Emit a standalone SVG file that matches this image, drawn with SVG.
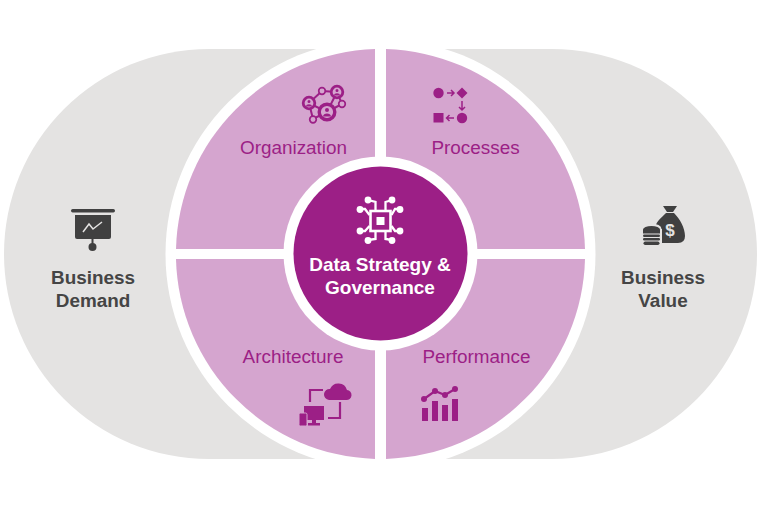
<svg xmlns="http://www.w3.org/2000/svg" width="760" height="505" viewBox="0 0 760 505">
<style>
text{font-family:"Liberation Sans",Arial,sans-serif;text-anchor:middle}
.q{font-size:18.900px;fill:#9c1f86}
.g{font-size:18.900px;font-weight:bold;fill:#454545}
.c{font-size:19px;font-weight:bold;fill:#fff}
.pf{fill:#9c1f86}
.pl{fill:none;stroke:#9c1f86;stroke-width:2.200}
.r{fill:#d5a5cf;stroke:#9c1f86}
.df{fill:#404040}
.w{fill:#fff}
.wl{fill:none;stroke:#fff;stroke-width:2.300}
</style>
<rect width="760" height="505" fill="#fff"/>
<g id="band"><rect x="4" y="49" width="753" height="410" rx="205" ry="205" fill="#e4e3e2"/></g>
<circle cx="380.500" cy="254" r="215" fill="#fff"/>
<g id="organization">
<path d="M375 49.100A205 205 0 0 0 176 249H375Z" fill="#d5a5cf"/>
<path class="pl" style="stroke-width:2" d="M309 103L322 91L337 92L342 104L327 112L309 103L313 119L327 112L337 92"/>
<circle class="r" cx="337" cy="92" r="5.800" stroke-width="2.800"/><circle class="r" cx="309" cy="103" r="5.800" stroke-width="2.800"/><circle class="r" cx="327" cy="112" r="7.800" stroke-width="3.400"/>
<circle class="r" cx="322" cy="91" r="3.300" stroke-width="1.700"/><circle class="r" cx="342" cy="104" r="3.300" stroke-width="1.700"/><circle class="r" cx="313" cy="119.500" r="3.300" stroke-width="1.700"/>
<path class="pf" d="M335.500 90.500a1.500 1.500 0 1 1 3 0a1.500 1.500 0 1 1 -3 0M334 95.500c0-3 6-3 6 0ZM307.500 101.500a1.500 1.500 0 1 1 3 0a1.500 1.500 0 1 1 -3 0M306 106.500c0-3 6-3 6 0ZM325 110a2 2 0 1 1 4 0a2 2 0 1 1 -4 0M323 116.500c0-4 8-4 8 0Z"/>
<text class="q" x="293.500" y="154">Organization</text>
</g>
<g id="processes">
<path d="M386 49.100A205 205 0 0 1 585 249H386Z" fill="#d5a5cf"/>
<circle class="pf" cx="438.500" cy="93" r="5.200"/>
<path class="pf" d="M462 87.500L467.500 93L462 98.500L456.500 93Z"/>
<rect class="pf" x="433.500" y="113" width="10" height="9.500"/>
<circle class="pf" cx="462" cy="118" r="5.200"/>
<path class="pl" style="stroke-width:1.500" d="M447 93H454M451 90L454 93L451 96M462 101V110M459 107L462 110L465 107M454 118H446.500M449.500 115L446.500 118L449.500 121"/>
<text class="q" x="475.500" y="154">Processes</text>
</g>
<g id="architecture">
<path d="M176 259A205 205 0 0 0 375 458.900V259Z" fill="#d5a5cf"/>
<path class="pf" d="M329 400H346A5 5 0 0 0 347 390A9 9 0 0 0 330 389A5.500 5.500 0 0 0 329 400Z"/>
<path class="pl" d="M323 390H310V402M340 402V418H328"/>
<path class="pf" d="M304 406H324V420H316V423H320V425.500H308V423H312V420H304Z"/>
<rect class="pf" x="299" y="413" width="8" height="13" rx="1.500" stroke="#d5a5cf"/>
<text class="q" x="293" y="363">Architecture</text>
</g>
<g id="performance">
<path d="M386 259V458.900A205 205 0 0 0 585 259Z" fill="#d5a5cf"/>
<rect class="pf" x="422" y="408" width="6" height="13"/><rect class="pf" x="432" y="401" width="6" height="20"/><rect class="pf" x="442" y="405" width="6" height="16"/><rect class="pf" x="452" y="399" width="6" height="22"/>
<path class="pl" d="M424 399L435 391L445 395L455 389"/>
<circle class="pf" cx="424" cy="399" r="3"/><circle class="pf" cx="435" cy="391" r="3"/><circle class="pf" cx="445" cy="395" r="3"/><circle class="pf" cx="455" cy="389" r="3"/>
<text class="q" x="476.500" y="363">Performance</text>
</g>
<g id="center">
<circle cx="380.500" cy="253.500" r="97" fill="#fff"/>
<circle cx="380.500" cy="253.500" r="87" fill="#9c1f86"/>
<rect class="wl" x="370.500" y="211" width="20" height="20" style="stroke-width:2.600"/>
<rect class="w" x="376.500" y="217" width="8" height="8"/>
<path class="wl" d="M368 200L375.500 202V210M392 200L385.500 202V210M360 209H365L369.500 215M400 209H395L391.500 215M360 231H365L369.500 226M400 231H395L391.500 226M368 240L375.500 239V232M392 240L385.500 239V232"/>
<circle class="w" cx="368" cy="200" r="3.400"/><circle class="w" cx="392" cy="200" r="3.400"/><circle class="w" cx="360" cy="209.500" r="3.400"/><circle class="w" cx="400" cy="209.500" r="3.400"/><circle class="w" cx="360" cy="231" r="3.400"/><circle class="w" cx="400" cy="231" r="3.400"/><circle class="w" cx="368" cy="240.500" r="3.400"/><circle class="w" cx="392" cy="240.500" r="3.400"/>
<text class="c" x="380" y="271">Data Strategy &amp;</text>
<text class="c" x="380" y="294">Governance</text>
</g>
<g id="business-demand">
<rect class="df" x="71" y="209" width="44" height="3.500" rx="1.700"/>
<path class="df" d="M75 215H111V237Q111 239 109 239H77Q75 239 75 237Z"/>
<rect class="df" x="91.500" y="239" width="2" height="6"/>
<circle class="df" cx="92.500" cy="247" r="4"/>
<path fill="none" stroke="#e4e3e2" stroke-width="1.500" d="M83 232L89 224L93 229L102 222"/>
<text class="g" x="93" y="284">Business</text>
<text class="g" x="93" y="307">Demand</text>
</g>
<g id="business-value">
<path class="df" d="M663 206H677L673 212H667Z"/>
<path class="df" d="M666 213H674C680 219 685 228 685 236Q685 243 678 243H660V226H655.500C657 221 661 218 666 213Z"/>
<ellipse cx="651.500" cy="229" rx="10" ry="5.500" fill="#e4e3e2"/>
<rect x="640" y="229" width="22" height="18" fill="#e4e3e2"/>
<ellipse class="df" cx="651.500" cy="229.500" rx="8.500" ry="3.500"/>
<rect class="df" x="643" y="229.500" width="17" height="4"/>
<rect class="df" x="643" y="234.500" width="17" height="2.400" rx="1.200"/>
<rect class="df" x="643" y="238" width="17" height="2.400" rx="1.200"/>
<rect class="df" x="643.500" y="241.500" width="16" height="3.400" rx="1.700"/>
<text x="670" y="236" style="font-size:17px;font-weight:bold;fill:#e4e3e2">$</text>
<text class="g" x="663" y="284">Business</text>
<text class="g" x="663" y="307">Value</text>
</g>
</svg>
